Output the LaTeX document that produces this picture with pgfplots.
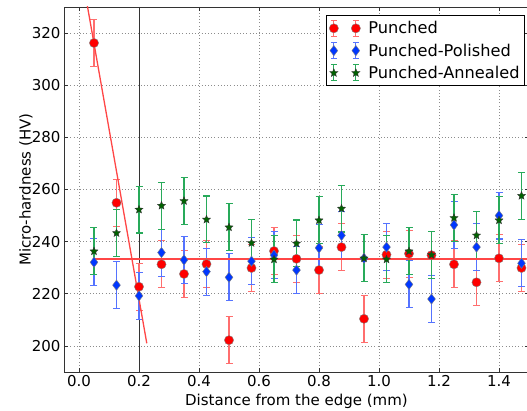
\documentclass[border=0pt]{standalone}
\usepackage{fontspec}
\setmainfont{DejaVu Sans}
\usepackage{pgfplots}
\pgfplotsset{compat=1.18}
\usepackage{pgfplotstable}
\usetikzlibrary{calc}

\definecolor{mred}{RGB}{255,0,0}
\definecolor{lred}{RGB}{255,70,70}
\definecolor{mblue}{RGB}{0,55,255}
\definecolor{mgreen}{RGB}{0,100,0}
\definecolor{ered}{RGB}{255,110,110}
\definecolor{eblue}{RGB}{85,115,255}
\definecolor{egreen}{RGB}{40,170,90}

\newcommand\fs{\fontsize{15}{18}\selectfont}
\newcommand\fl{\fontsize{16.2}{19}\selectfont}

% filled five pointed star
\pgfdeclareplotmark{fstar}{%
  \pgfpathmoveto{\pgfpointpolar{90}{\pgfplotmarksize}}%
  \pgfpathlineto{\pgfpointpolar{126}{0.45\pgfplotmarksize}}%
  \pgfpathlineto{\pgfpointpolar{162}{\pgfplotmarksize}}%
  \pgfpathlineto{\pgfpointpolar{198}{0.45\pgfplotmarksize}}%
  \pgfpathlineto{\pgfpointpolar{234}{\pgfplotmarksize}}%
  \pgfpathlineto{\pgfpointpolar{270}{0.45\pgfplotmarksize}}%
  \pgfpathlineto{\pgfpointpolar{306}{\pgfplotmarksize}}%
  \pgfpathlineto{\pgfpointpolar{342}{0.45\pgfplotmarksize}}%
  \pgfpathlineto{\pgfpointpolar{18}{\pgfplotmarksize}}%
  \pgfpathlineto{\pgfpointpolar{54}{0.45\pgfplotmarksize}}%
  \pgfpathclose
  \pgfusepathqfillstroke
}

\pgfplotsset{
  errlegend/.style={legend image code/.code={
    \draw[#1, line width=1.1pt] (-4pt,0pt) (32pt,0pt)
      (0pt,-8pt)--(0pt,8pt) (-3pt,-8pt)--(3pt,-8pt) (-3pt,8pt)--(3pt,8pt)
      (22pt,-8pt)--(22pt,8pt) (19pt,-8pt)--(25pt,-8pt) (19pt,8pt)--(25pt,8pt);
    \draw[##1] plot coordinates {(0pt,0pt) (22pt,0pt)};
  }},
  errstyle/.style={error bars/.cd, y dir=both, y explicit,
    error bar style={color=#1, line width=1.1pt},
    error mark options={rotate=90, color=#1, mark size=3.5pt, line width=1.1pt}},
}

% x  y  e
\pgfplotstableread{
x y e
0.05 316.2 9
0.125 254.9 9
0.2 222.7 9
0.275 231.3 9
0.35 227.6 9
0.425 231.4 9
0.5 202.2 9
0.575 229.9 9
0.65 236.4 9
0.725 233.4 9
0.8 229.1 9
0.875 237.9 9
0.95 210.4 9
1.025 235.0 9
1.1 235.4 9
1.175 234.8 9
1.25 231.3 9
1.325 224.4 9
1.4 233.6 9
1.475 229.9 9
}\punched

\pgfplotstableread{
x y e
0.05 232.1 9
0.125 223.3 9
0.2 219.2 9
0.275 235.8 9
0.35 233.0 9
0.425 228.5 9
0.5 226.3 9
0.575 232.5 9
0.65 234.8 9
0.725 229.1 9
0.8 237.6 9
0.875 242.4 9
0.95 233.6 9
1.025 237.9 9
1.1 223.6 9
1.175 218.0 9
1.25 246.4 9
1.325 237.9 9
1.4 250.0 9
1.475 231.7 9
}\polished

\pgfplotstableread{
x y e
0.05 236.3 9
0.125 243.3 9
0.2 252.3 9
0.275 253.8 9
0.35 255.6 9
0.425 248.5 9
0.5 245.5 9
0.575 239.5 9
0.65 233.2 9
0.725 239.3 9
0.8 248.2 9
0.875 252.7 9
0.95 233.6 9
1.025 233.2 9
1.1 236.3 9
1.175 234.9 9
1.25 249.1 9
1.325 242.4 9
1.4 248.2 9
1.475 257.6 9
}\annealed

\begin{document}
\begin{tikzpicture}
\begin{axis}[
  scale only axis, width=465pt, height=365pt,
  xmin=-0.05, xmax=1.5, ymin=190, ymax=330,
  xtick={0,0.2,0.4,0.6,0.8,1.0,1.2,1.4},
  ytick={200,220,240,260,280,300,320},
  xticklabel style={/pgf/number format/.cd, fixed, fixed zerofill, precision=1},
  /pgf/number format/assume math mode=true,
  tick label style={font=\fs},
  label style={font=\fs},
  xlabel={Distance from the edge (mm)},
  ylabel={Micro-hardness (HV)},
  ylabel style={at={(rel axis cs:-0.06,0.5)}, anchor=south},
  grid=major,
  grid style={black!45, line width=0.6pt, dash pattern=on 0.8pt off 2.4pt},
  axis line style={black!80, line width=0.8pt},
  tick align=inside, major tick length=4pt,
  tick style={black!80, line width=0.6pt},
  legend style={at={(rel axis cs:0.9914,0.978)}, anchor=north east,
    draw=black, line width=0.8pt, font=\fl, row sep=4.5pt,
    inner xsep=3pt, inner ysep=4pt},
  legend cell align=left,
]
\addplot[black!80, line width=0.9pt, forget plot] coordinates {(0.2,190) (0.2,330)};

\addplot[only marks, mark=*, mark size=4.6pt,
  mark options={fill=mred, draw=black!50, line width=0.4pt},
  errlegend=ered, errstyle=ered]
  table[x=x, y=y, y error=e] {\punched};
\addlegendentry{Punched}

\addplot[only marks, mark=diamond*, mark size=5.2pt,
  mark options={fill=mblue, draw=black!50, line width=0.4pt},
  errlegend=eblue, errstyle=eblue]
  table[x=x, y=y, y error=e] {\polished};
\addlegendentry{Punched-Polished}

\addplot[only marks, mark=fstar, mark size=4.2pt,
  mark options={fill=mgreen, draw=black!80, line width=0.4pt},
  errlegend=egreen, errstyle=egreen]
  table[x=x, y=y, y error=e] {\annealed};
\addlegendentry{Punched-Annealed}

\addplot[lred, line width=1.3pt, forget plot] coordinates {(0.02,335.6) (0.226,201)};
\addplot[lred, line width=1.4pt, forget plot] coordinates {(0.05,233.3) (1.5,233.3)};
\end{axis}
\pgfresetboundingbox
\path[use as bounding box] ($(current axis.south west)+(-64pt,-39pt)$) rectangle ($(current axis.north east)+(-2pt,7pt)$);
\end{tikzpicture}
\end{document}
